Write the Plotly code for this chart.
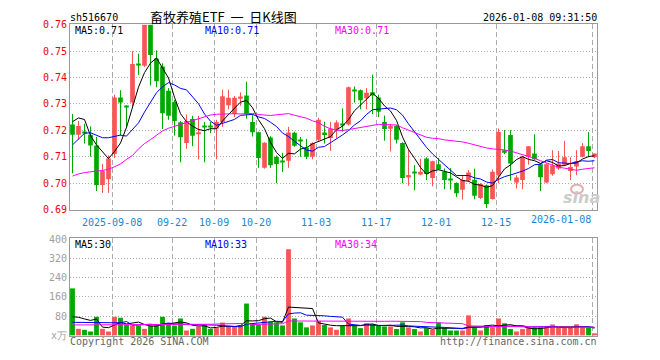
import plotly.graph_objects as go

W, H = 660, 360

tick_index = [7, 17, 24, 31, 41, 51, 61, 71, 87]
tick_labels = ["2025-09-08", "09-22", "10-09", "10-20", "11-03", "11-17", "12-01", "12-15", "2026-01-08"]

opens = [0.7222, 0.7183, 0.7192, 0.7183, 0.7143, 0.6993, 0.7015, 0.7110, 0.7324, 0.7292,
         0.7305, 0.7452, 0.7445, 0.7600, 0.7472, 0.7442, 0.7350, 0.7308, 0.7231, 0.7152,
         0.7243, 0.7185, 0.7214, 0.7214, 0.7207, 0.7232, 0.7295, 0.7262, 0.7320, 0.7332,
         0.7232, 0.7193, 0.7058, 0.7173, 0.7099, 0.7085, 0.7085, 0.7191, 0.7162, 0.7135,
         0.7100, 0.7164, 0.7192, 0.7171, 0.7202, 0.7224, 0.7222, 0.7352, 0.7352, 0.7322,
         0.7344, 0.7324, 0.7232, 0.7206, 0.7217, 0.7152, 0.7021, 0.7042, 0.7033, 0.7093,
         0.7020, 0.7072, 0.7043, 0.7013, 0.7001, 0.6975, 0.7010, 0.7013, 0.6944, 0.6992,
         0.6940, 0.7029, 0.7125, 0.7182, 0.7003, 0.7012, 0.7100, 0.7112, 0.7072, 0.7003,
         0.7034, 0.7056, 0.7070, 0.7046, 0.7063, 0.7100, 0.7140, 0.7098]
highs = [0.7262, 0.7235, 0.7225, 0.7215, 0.7175, 0.7073, 0.7105, 0.7335, 0.7352, 0.7295,
         0.7500, 0.7490, 0.7600, 0.7600, 0.7503, 0.7454, 0.7360, 0.7315, 0.7235, 0.7260,
         0.7255, 0.7255, 0.7232, 0.7232, 0.7240, 0.7354, 0.7354, 0.7330, 0.7344, 0.7384,
         0.7262, 0.7195, 0.7155, 0.7178, 0.7105, 0.7115, 0.7213, 0.7195, 0.7175, 0.7168,
         0.7155, 0.7247, 0.7233, 0.7232, 0.7238, 0.7283, 0.7366, 0.7366, 0.7355, 0.7360,
         0.7411, 0.7335, 0.7256, 0.7225, 0.7220, 0.7155, 0.7128, 0.7068, 0.7092, 0.7098,
         0.7085, 0.7095, 0.7056, 0.7057, 0.7003, 0.7028, 0.7050, 0.7055, 0.7000, 0.6995,
         0.7052, 0.7207, 0.7201, 0.7201, 0.7030, 0.7101, 0.7140, 0.7185, 0.7075, 0.7075,
         0.7125, 0.7122, 0.7160, 0.7098, 0.7125, 0.7152, 0.7193, 0.7112]
lows = [0.7037, 0.7165, 0.7150, 0.7100, 0.6970, 0.6963, 0.6963, 0.7095, 0.7180, 0.7210,
        0.7290, 0.7410, 0.7440, 0.7370, 0.7363, 0.7205, 0.7240, 0.7180, 0.7079, 0.7130,
        0.7140, 0.7090, 0.7079, 0.7189, 0.7091, 0.7213, 0.7280, 0.7250, 0.7293, 0.7244,
        0.7177, 0.7058, 0.7055, 0.7058, 0.7000, 0.7042, 0.7058, 0.7138, 0.7100, 0.7091,
        0.7090, 0.7160, 0.7150, 0.7122, 0.7171, 0.7195, 0.7218, 0.7305, 0.7280, 0.7280,
        0.7262, 0.7250, 0.7161, 0.7120, 0.7150, 0.7000, 0.6990, 0.6973, 0.7030, 0.7012,
        0.6988, 0.7050, 0.6977, 0.6976, 0.6947, 0.6938, 0.7005, 0.6939, 0.6940, 0.6906,
        0.6938, 0.7000, 0.7110, 0.7010, 0.6980, 0.6977, 0.7070, 0.7088, 0.6970, 0.7000,
        0.7028, 0.7050, 0.7065, 0.7012, 0.7030, 0.7098, 0.7098, 0.7095]
closes = [0.7183, 0.7216, 0.7190, 0.7143, 0.6993, 0.7046, 0.7093, 0.7324, 0.7305, 0.7289,
          0.7451, 0.7448, 0.7600, 0.7485, 0.7386, 0.7265, 0.7255, 0.7235, 0.7174, 0.7235,
          0.7180, 0.7193, 0.7212, 0.7212, 0.7232, 0.7329, 0.7323, 0.7323, 0.7328, 0.7262,
          0.7193, 0.7095, 0.7153, 0.7068, 0.7073, 0.7080, 0.7192, 0.7142, 0.7158, 0.7100,
          0.7152, 0.7240, 0.7182, 0.7207, 0.7230, 0.7222, 0.7363, 0.7350, 0.7314, 0.7342,
          0.7332, 0.7270, 0.7205, 0.7217, 0.7164, 0.7020, 0.7031, 0.7040, 0.7043, 0.7035,
          0.7083, 0.7053, 0.7012, 0.7011, 0.6962, 0.7012, 0.7040, 0.6952, 0.6997, 0.6921,
          0.7043, 0.7194, 0.7115, 0.7074, 0.7021, 0.7100, 0.7140, 0.7091, 0.7022, 0.7072,
          0.7067, 0.7074, 0.7098, 0.7061, 0.7083, 0.7140, 0.7122, 0.7112]
volumes = [195, 27, 23, 16, 77, 27, 16, 77, 73, 43,
           41, 41, 27, 41, 41, 77, 50, 41, 70, 20,
           27, 37, 43, 27, 30, 53, 37, 37, 43, 132,
           50, 43, 77, 57, 54, 41, 358, 70, 54, 33,
           41, 60, 43, 33, 23, 39, 70, 39, 30, 50,
           46, 39, 37, 37, 26, 54, 33, 26, 16, 30,
           23, 54, 30, 20, 20, 20, 83, 33, 20, 43,
           33, 70, 50, 26, 16, 26, 33, 33, 33, 33,
           45, 33, 33, 33, 46, 33, 32, 6]

ma5_head = [0.7233, 0.7247, 0.7241, 0.7180]
ma10_head = [0.7145, 0.7168, 0.7189, 0.7191, 0.7183, 0.7172, 0.7172, 0.7178, 0.7182]
ma30_head = [0.7027, 0.7035, 0.7040, 0.7044, 0.7046, 0.7048, 0.7053, 0.7062, 0.7073, 0.7090,
             0.7105, 0.7130, 0.7150, 0.7165, 0.7180, 0.7198, 0.7208, 0.7215, 0.7222, 0.7229,
             0.7237, 0.7245, 0.7252, 0.7258, 0.7261, 0.7262, 0.7263, 0.7263, 0.7262]
vma5_head = [77, 75, 68, 62]
vma10_head = [54, 54, 53, 53, 52, 52, 51, 51, 52]
vma30_head = [43, 43, 43, 43, 43, 43, 44, 44, 44, 44, 44, 44, 44, 44, 44, 45, 45, 45, 45, 45,
              46, 46, 46, 46, 47, 47, 47, 47, 48]

price_ticks = [0.69, 0.70, 0.71, 0.72, 0.73, 0.74, 0.75, 0.76]
vol_ticks = [0, 80, 160, 240, 320, 400]
vol_ticktext = ["x万", "80", "160", "240", "320", "400"]

RED = "#fa5555"
GREEN = "#00a800"
GRID = "#aaaaaa"
BORDER = "#999999"
MONO = "DejaVu Sans Mono"


def moving_avg(values, k, head):
    out = list(head)
    for i in range(len(head), len(values)):
        out.append(sum(values[i - k + 1:i + 1]) / k)
    return out


n = len(closes)
idx = list(range(n))
up = [closes[i] > opens[i] for i in idx]
colors = [RED if u else GREEN for u in up]

fig = go.Figure()

# wicks
for flag, col in ((True, RED), (False, GREEN)):
    xs, ys = [], []
    for i in idx:
        if up[i] == flag:
            xs += [i, i, None]
            ys += [lows[i], highs[i], None]
    fig.add_trace(go.Scatter(x=xs, y=ys, mode="lines", line=dict(color=col, width=1),
                             hoverinfo="skip", showlegend=False, xaxis="x", yaxis="y"))

# bodies
fig.add_trace(go.Bar(x=idx, y=[max(abs(closes[i] - opens[i]), 0.0004) for i in idx],
                     base=[min(opens[i], closes[i]) for i in idx],
                     width=0.78, marker=dict(color=colors, line=dict(width=0)),
                     hoverinfo="skip", showlegend=False, xaxis="x", yaxis="y"))

ma_price = {}
for name, k, head, col in (("MA5", 5, ma5_head, "#000000"), ("MA10", 10, ma10_head, "#0000ff"),
                           ("MA30", 30, ma30_head, "#ff00ff")):
    ma_price[name] = moving_avg(closes, k, head)
    fig.add_trace(go.Scatter(x=idx, y=ma_price[name], mode="lines",
                             line=dict(color=col, width=1), hoverinfo="skip",
                             showlegend=False, xaxis="x", yaxis="y"))

# volume
fig.add_trace(go.Bar(x=idx, y=volumes, width=0.8, marker=dict(color=colors, line=dict(width=0)),
                     hoverinfo="skip", showlegend=False, xaxis="x2", yaxis="y2"))
ma_vol = {}
for name, k, head, col in (("MA5", 5, vma5_head, "#000000"), ("MA10", 10, vma10_head, "#0000ff"),
                           ("MA30", 30, vma30_head, "#ff00ff")):
    ma_vol[name] = moving_avg(volumes, k, head)
    fig.add_trace(go.Scatter(x=idx, y=ma_vol[name], mode="lines",
                             line=dict(color=col, width=1), hoverinfo="skip",
                             showlegend=False, xaxis="x2", yaxis="y2"))

PL, PR = 70, 597
MT, MB = 20, 210.7
VT, VB = 240, 340.5
xdom = [PL / W, PR / W]
xrange = [-0.4167, 87.4167]
tickpos = [t - 0.4 for t in tick_index]

common_x = dict(domain=xdom, range=xrange, showgrid=True, gridcolor=GRID, griddash="5px,3px",
                gridwidth=1, zeroline=False, showline=True, mirror=True, linecolor=BORDER,
                linewidth=1, ticks="", tickvals=tickpos, fixedrange=True)

fig.update_layout(
    width=W, height=H, margin=dict(l=0, r=0, t=0, b=0),
    paper_bgcolor="white", plot_bgcolor="white", showlegend=False, barmode="overlay",
    xaxis=dict(**common_x, anchor="y", ticktext=tick_labels[:-1] + [""], ticklabelstandoff=3,
               tickfont=dict(family=MONO, size=10, color="#1a85d6")),
    xaxis2=dict(**common_x, anchor="y2", matches="x", showticklabels=False),
    yaxis=dict(domain=[1 - MB / H, 1 - MT / H], range=[0.6899, 0.7601], tickvals=price_ticks,
               tickformat=".2f", showgrid=True, gridcolor=GRID, griddash="1px,2px", zeroline=False,
               showline=True, mirror=True, linecolor=BORDER, linewidth=1, ticks="",
               tickfont=dict(family=MONO, size=10, color="#ee0000"), fixedrange=True),
    yaxis2=dict(domain=[1 - VB / H, 1 - VT / H], range=[-3, 403], tickvals=vol_ticks,
                ticktext=vol_ticktext, showgrid=True, gridcolor=GRID, griddash="1px,2px",
                zeroline=False, showline=True, mirror=True, linecolor=BORDER, linewidth=1,
                ticks="", tickfont=dict(family=MONO, size=10, color="#a0a0a0"), fixedrange=True),
)


def ann(text, px, py, anchor="left", color="#000000", size=10, family=MONO, **kw):
    fig.add_annotation(text=text, x=px / W, y=1 - py / H, xref="paper", yref="paper",
                       xanchor=anchor, yanchor="middle", showarrow=False, borderpad=0,
                       font=dict(family=family, size=size, color=color), **kw)


ann("sh516670", 69, 13)
ann("畜牧养殖ETF\u00a0\u00a0一\u00a0\u00a0日K线图", 223, 11.5, anchor="center", size=13,
    family="Noto Sans CJK SC")
ann("2026-01-08 09:31:50", 598, 13, anchor="right")
ann(f"MA5:{ma_price['MA5'][-1]:.2f}", 74, 26)
ann(f"MA10:{ma_price['MA10'][-1]:.2f}", 204, 26, color="#0000ff")
ann(f"MA30:{ma_price['MA30'][-1]:.2f}", 334, 26, color="#ff00ff")
ann(f"MA5:{ma_vol['MA5'][-1]:.0f}", 74, 246)
ann(f"MA10:{ma_vol['MA10'][-1]:.0f}", 204, 246, color="#0000ff")
ann(f"MA30:{ma_vol['MA30'][-1]:.0f}", 334, 246, color="#ff00ff")
ann("Copyright 2026 SINA.COM", 69, 346, color="#666666")
ann("http://finance.sina.com.cn", 598, 346, anchor="right", color="#666666")
ann("<i><b>sina</b></i>", 581, 198, anchor="center", color="#cccccc", size=16,
    family="DejaVu Sans")
fig.add_shape(type="circle", xref="paper", yref="paper",
              x0=571 / W, x1=583 / W, y0=1 - 194 / H, y1=1 - 185 / H,
              line=dict(color="#e0b0b0", width=2))
# last date label kept inside the plot, as in the original
fig.add_annotation(text=tick_labels[-1], x=tickpos[-1], xref="x", y=1 - 221 / H, yref="paper",
                   xanchor="right", yanchor="middle", showarrow=False, borderpad=0,
                   font=dict(family=MONO, size=10, color="#1a85d6"))

fig.write_html("out.html", config={"displayModeBar": False},
               post_script="document.body.style.margin='0';document.body.style.padding='0';")
